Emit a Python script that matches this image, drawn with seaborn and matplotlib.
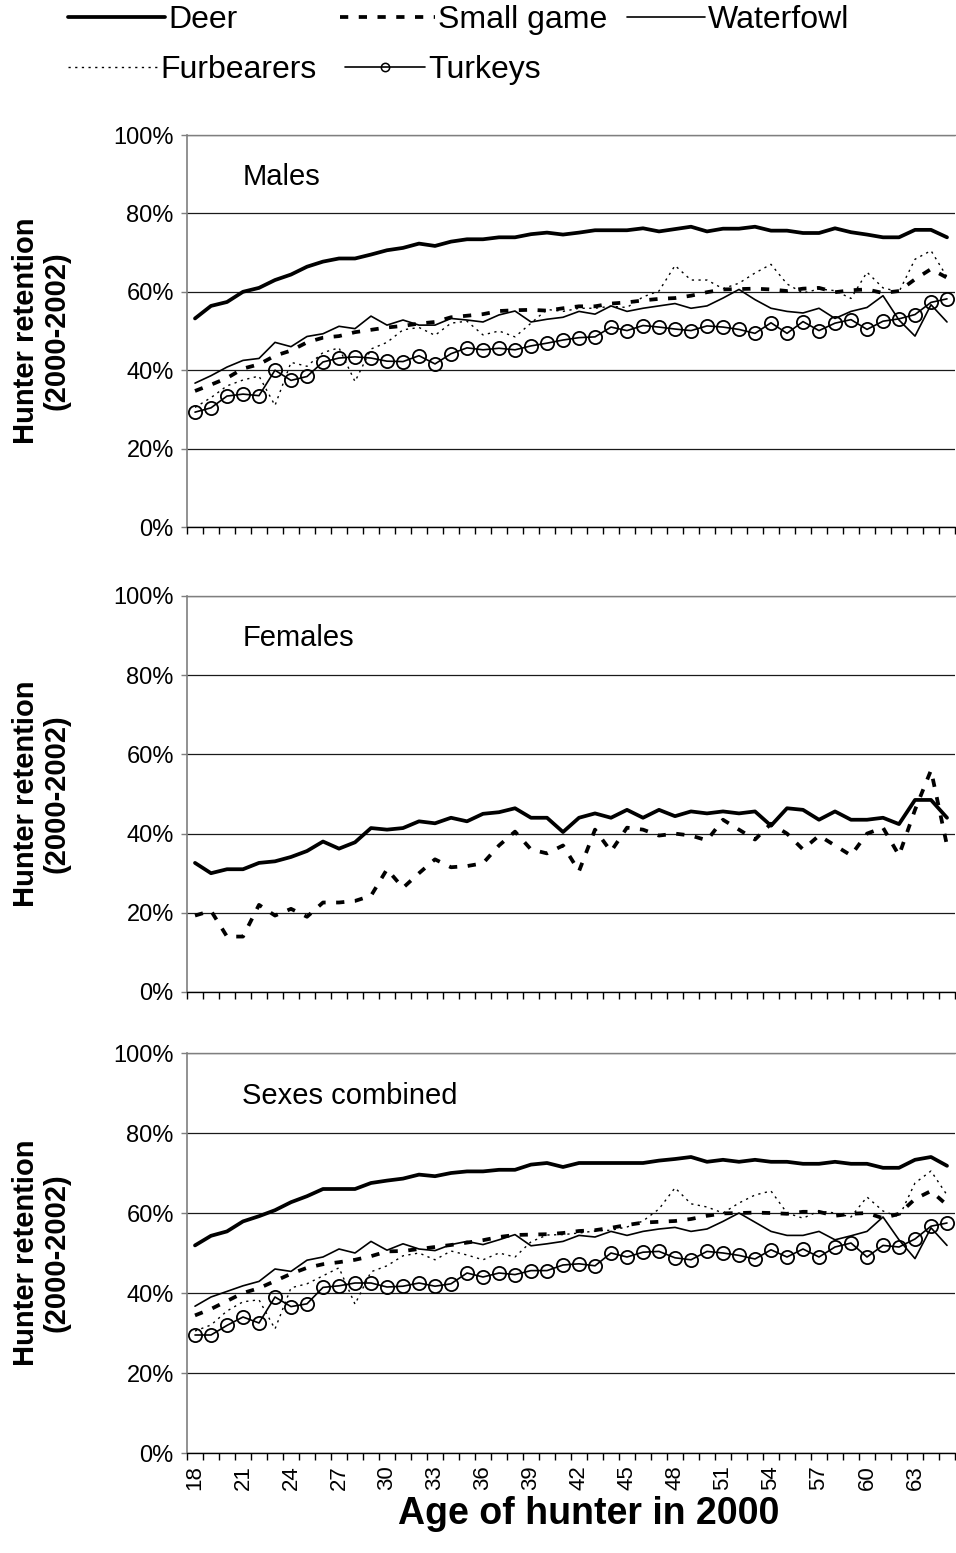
import matplotlib
matplotlib.use("Agg")
import matplotlib.pyplot as plt
from matplotlib.lines import Line2D
from matplotlib.ticker import FixedLocator, FuncFormatter
import seaborn as sns

# ---------------------------------------------------------------- data
ages = list(range(18, 66))
tick_ages = list(range(18, 64, 3))
y_ticks = [0, 20, 40, 60, 80, 100]
panel_titles = ["Males", "Females", "Sexes combined"]
species = ["Deer", "Small game", "Waterfowl", "Furbearers", "Turkeys"]

males_deer = [53.2, 56.4, 57.4, 60.0, 61.0, 63.0, 64.4, 66.4, 67.7, 68.5,
              68.5, 69.5, 70.6, 71.2, 72.3, 71.7, 72.8, 73.4, 73.4, 73.9,
              73.9, 74.7, 75.1, 74.6, 75.1, 75.7, 75.7, 75.7, 76.2, 75.4,
              76.0, 76.6, 75.4, 76.1, 76.1, 76.6, 75.6, 75.6, 75.0, 75.0,
              76.2, 75.2, 74.6, 73.9, 73.9, 75.8, 75.8, 73.9]
males_small = [34.7, 36.3, 38.0, 40.4, 41.5, 43.7, 45.0, 47.1, 48.3, 48.7,
               49.7, 50.3, 50.9, 51.3, 51.9, 52.3, 53.5, 53.9, 54.3, 55.1,
               55.3, 55.4, 55.2, 55.8, 56.3, 56.3, 57.0, 57.3, 57.8, 58.2,
               58.4, 59.0, 59.9, 60.6, 60.7, 60.8, 60.6, 60.2, 60.8, 61.0,
               59.9, 60.4, 60.6, 59.7, 60.2, 63.2, 65.8, 63.6]
males_water = [36.7, 38.6, 40.8, 42.5, 43.0, 47.1, 46.0, 48.6, 49.3, 51.2,
               50.6, 53.8, 51.5, 52.8, 51.5, 51.5, 53.2, 52.8, 52.3, 54.1,
               55.1, 52.3, 53.0, 53.5, 55.0, 54.3, 56.4, 55.0, 55.8, 56.4,
               57.0, 55.8, 56.4, 58.4, 60.6, 58.0, 55.8, 55.0, 54.6, 55.8,
               53.2, 55.0, 56.0, 59.0, 52.8, 48.7, 56.7, 52.3]
males_fur = [30.5, 33.0, 36.0, 37.5, 38.5, 31.0, 42.0, 41.0, 44.5, 45.7,
             37.1, 45.4, 47.1, 50.3, 50.9, 48.9, 52.0, 52.5, 49.0, 50.0,
             48.5, 52.0, 55.5, 55.0, 55.8, 55.8, 56.3, 56.0, 58.7, 60.2,
             66.7, 63.0, 63.0, 60.8, 62.2, 64.8, 67.0, 62.0, 59.7, 60.7,
             60.3, 58.3, 65.0, 61.0, 60.0, 68.3, 70.5, 63.8]
males_turkey = [29.3, 30.4, 33.4, 33.9, 33.5, 40.0, 37.4, 38.4, 42.1, 43.1,
                43.4, 43.1, 42.3, 42.2, 43.7, 41.6, 44.2, 45.7, 45.2, 45.6,
                45.2, 46.2, 46.9, 47.7, 48.3, 48.5, 51.0, 50.1, 51.4, 51.0,
                50.5, 50.1, 51.3, 51.0, 50.4, 49.4, 52.1, 49.4, 52.4, 50.1,
                52.0, 52.9, 50.4, 52.5, 53.1, 54.2, 57.3, 58.2]

females_deer = [32.6, 30.0, 31.0, 31.0, 32.6, 33.0, 34.1, 35.6, 38.0, 36.2,
                37.8, 41.4, 41.0, 41.4, 43.1, 42.6, 44.0, 43.1, 45.0, 45.4,
                46.4, 44.0, 44.0, 40.4, 44.0, 45.1, 44.0, 46.0, 44.0, 46.0,
                44.4, 45.6, 45.1, 45.6, 45.1, 45.6, 42.0, 46.4, 46.0, 43.5,
                45.6, 43.5, 43.5, 44.0, 42.4, 48.5, 48.5, 44.0]
females_small = [19.3, 20.5, 14.0, 14.0, 22.0, 19.3, 21.0, 19.0, 22.6, 22.6,
                 23.0, 24.3, 31.0, 26.3, 30.0, 33.5, 31.5, 31.8, 32.5, 37.0,
                 40.5, 36.0, 35.0, 37.0, 30.5, 41.0, 35.5, 41.5, 41.0, 39.5,
                 40.0, 39.5, 38.3, 43.5, 41.0, 38.5, 42.5, 40.0, 36.0, 39.5,
                 37.0, 34.5, 40.0, 41.5, 34.5, 46.0, 56.0, 37.0]

combined_deer = [51.9, 54.3, 55.4, 57.9, 59.2, 60.7, 62.7, 64.2, 66.0, 66.0,
                 66.0, 67.5, 68.1, 68.6, 69.6, 69.2, 70.0, 70.4, 70.4, 70.8,
                 70.8, 72.1, 72.5, 71.5, 72.5, 72.5, 72.5, 72.5, 72.5, 73.1,
                 73.5, 74.0, 72.8, 73.3, 72.8, 73.3, 72.8, 72.8, 72.3, 72.3,
                 72.8, 72.3, 72.3, 71.3, 71.3, 73.3, 74.0, 71.8]
combined_small = [34.4, 36.0, 38.0, 40.0, 41.2, 43.0, 44.8, 46.3, 47.2, 47.7,
                  48.3, 49.2, 50.4, 50.5, 51.0, 51.5, 52.0, 52.6, 53.2, 54.0,
                  54.5, 54.6, 54.7, 55.0, 55.5, 55.7, 56.3, 57.0, 57.6, 57.8,
                  58.0, 58.5, 59.3, 59.9, 60.0, 60.1, 60.0, 59.8, 60.3, 60.3,
                  59.3, 59.8, 60.0, 58.7, 59.8, 63.5, 65.5, 62.0]
combined_water = [36.7, 39.0, 40.4, 41.8, 42.9, 46.0, 45.4, 48.2, 49.0, 51.0,
                  50.0, 52.9, 50.7, 52.3, 51.0, 50.6, 52.1, 52.9, 52.1, 53.3,
                  54.6, 51.8, 52.3, 52.9, 54.4, 54.0, 55.4, 54.4, 55.4, 56.0,
                  56.4, 55.4, 56.0, 57.9, 60.0, 57.7, 55.4, 54.4, 54.4, 55.4,
                  53.3, 54.3, 55.4, 59.0, 53.3, 48.6, 56.3, 51.9]
combined_fur = [30.5, 32.0, 35.5, 37.8, 38.3, 31.0, 41.3, 42.3, 44.3, 46.3,
                37.2, 45.3, 46.8, 49.3, 50.0, 48.3, 50.5, 49.5, 48.3, 50.0,
                49.0, 52.8, 54.5, 54.6, 55.0, 55.5, 55.7, 56.5, 58.0, 61.0,
                66.3, 62.3, 61.5, 60.0, 62.5, 64.5, 65.5, 60.0, 58.7, 60.5,
                60.0, 59.0, 64.0, 60.5, 59.0, 67.5, 70.5, 64.5]
combined_turkey = [29.5, 29.5, 31.9, 34.0, 32.5, 39.0, 36.6, 37.3, 41.4, 41.8,
                   42.5, 42.5, 41.5, 41.7, 42.5, 41.7, 42.3, 45.0, 44.0, 45.0,
                   44.6, 45.6, 45.6, 47.0, 47.3, 46.8, 50.0, 49.0, 50.2, 50.4,
                   48.8, 48.3, 50.4, 50.0, 49.4, 48.5, 50.8, 49.0, 51.0, 49.0,
                   51.5, 52.5, 49.0, 51.9, 51.5, 53.5, 56.7, 57.5]

panels = [
    {"Deer": males_deer, "Small game": males_small, "Waterfowl": males_water,
     "Furbearers": males_fur, "Turkeys": males_turkey},
    {"Deer": females_deer, "Small game": females_small},
    {"Deer": combined_deer, "Small game": combined_small,
     "Waterfowl": combined_water, "Furbearers": combined_fur,
     "Turkeys": combined_turkey},
]

# ---------------------------------------------------------------- styles
sns.set_theme(style="white")
plt.rcParams["font.family"] = ["Liberation Sans", "DejaVu Sans"]
plt.rcParams["text.color"] = "black"
plt.rcParams["axes.labelcolor"] = "black"
plt.rcParams["xtick.color"] = "black"
plt.rcParams["ytick.color"] = "black"

styles = {
    "Deer": dict(color="black", linewidth=2.7, linestyle="-"),
    "Small game": dict(color="black", linewidth=2.7, linestyle=(0, (2.2, 2.8))),
    "Waterfowl": dict(color="black", linewidth=1.2, linestyle="-"),
    "Furbearers": dict(color="black", linewidth=1.0, linestyle=(0, (1.6, 3.2))),
    "Turkeys": dict(color="black", linewidth=1.2, linestyle="-", marker="o",
                    markersize=9.5, markerfacecolor="none",
                    markeredgecolor="black", markeredgewidth=1.3),
}

W, H = 956, 1553
fig = plt.figure(figsize=(W / 100, H / 100), dpi=100)

# axes boxes in pixel units: (top, bottom)
boxes = [(135, 527), (596, 992), (1053, 1453)]
ax_left, ax_right = 187, 955

axes = []
for k, ((top, bot), title, data) in enumerate(zip(boxes, panel_titles, panels)):
    ax = fig.add_axes([ax_left / W, 1 - bot / H, (ax_right - ax_left) / W,
                       (bot - top) / H])
    axes.append(ax)
    for name in species:
        if name not in data:
            continue
        sns.lineplot(x=ages, y=data[name], ax=ax, legend=False,
                     **styles[name])

    ax.set_xlim(17.5, 65.5)
    ax.set_ylim(0, 100)
    ax.set_axisbelow(True)

    # gridlines and frame
    ax.yaxis.set_major_locator(FixedLocator(y_ticks))
    ax.yaxis.set_major_formatter(FuncFormatter(lambda v, p: f"{int(v)}%"))
    ax.grid(False)
    ax.yaxis.grid(True, color="#1a1a1a", linewidth=0.9)
    ax.spines["right"].set_visible(False)
    ax.spines["top"].set_color("#7f7f7f")
    ax.spines["top"].set_linewidth(1.0)
    ax.spines["left"].set_color("#7f7f7f")
    ax.spines["left"].set_linewidth(1.2)
    ax.spines["bottom"].set_color("black")
    ax.spines["bottom"].set_linewidth(1.0)

    ax.tick_params(axis="y", which="major", direction="out", length=4.5,
                   width=1, color="#7f7f7f", pad=5, labelsize=17,
                   labelcolor="black", left=True)

    # category boundaries as minor ticks, labels every third age
    ax.xaxis.set_minor_locator(FixedLocator([a - 0.5 for a in ages] + [65.5]))
    ax.xaxis.set_major_locator(FixedLocator(tick_ages))
    ax.tick_params(axis="x", which="minor", direction="out", length=5,
                   width=1, color="black", bottom=True)
    ax.tick_params(axis="x", which="major", length=0, pad=9, labelsize=16,
                   labelrotation=90, bottom=True, labelcolor="black")
    if k < 2:
        ax.set_xticklabels([])
    else:
        ax.set_xticklabels([str(a) for a in tick_ages])

    ax.set_xlabel("")
    ax.set_ylabel("Hunter retention\n(2000-2002)", fontsize=21,
                  fontweight="bold", linespacing=1.1, color="black")
    ax.yaxis.set_label_coords(-0.152, 0.5)

    ax.text(0.072, 0.893, title, transform=ax.transAxes, fontsize=21,
            ha="left", va="center", color="black")

axes[2].set_xlabel("Age of hunter in 2000", fontsize=27, fontweight="bold",
                   color="black")
axes[2].xaxis.set_label_coords(0.523, -0.108)

# ---------------------------------------------------------------- legend
legend_layout = {
    # name: (handle left px, row centre px, handle length px)
    "Deer": (68, 20, 97),
    "Small game": (340, 20, 95),
    "Waterfowl": (627, 20, 78),
    "Furbearers": (68, 70, 89),
    "Turkeys": (345, 70, 80),
}
fs = 23
fs_px = fs * 100 / 72
for name, (x0, yc, hl) in legend_layout.items():
    st = dict(styles[name])
    if "marker" in st:
        st["markersize"] = 6
        st["markeredgewidth"] = 1.1
    handle = Line2D([], [], **st)
    fig.legend([handle], [name], loc="center left",
               bbox_to_anchor=(x0 / W, 1 - yc / H), frameon=False,
               fontsize=fs, handlelength=hl / fs_px, handletextpad=0.1,
               borderpad=0, borderaxespad=0, numpoints=1)

fig.savefig("out.png", dpi=100, facecolor="white")
